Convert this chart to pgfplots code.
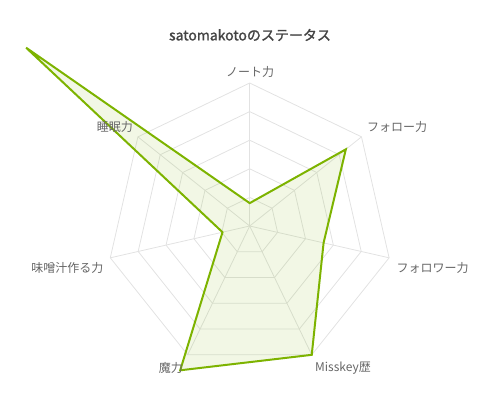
\documentclass[border=0pt]{standalone}
\usepackage{pgfplots}
\pgfplotsset{compat=1.18}
\usepgfplotslibrary{polar}
\usepackage{fontspec}
\setmainfont{Noto Sans CJK JP}
\newfontfamily\titlefont[FakeBold=1.5]{Noto Sans CJK JP}
\definecolor{lineg}{HTML}{7DB300}
\definecolor{gridc}{HTML}{E2E2E2}
\definecolor{labc}{HTML}{666666}
\definecolor{titc}{HTML}{444444}
\begin{document}
\begin{tikzpicture}[x=1pt,y=1pt]
\begin{polaraxis}[
  scale only axis, width=286pt, height=286pt,
  xmin=0, xmax=360, ymin=0, ymax=100,
  hide axis, clip=false,
]
\coordinate (C) at (axis cs:0,0);
\pgfplotsinvokeforeach{20,40,60,80,100}{
  \draw[gridc, line width=0.8pt] (axis cs:90,#1) -- (axis cs:38.5714,#1) -- (axis cs:347.1429,#1) -- (axis cs:295.7143,#1) -- (axis cs:244.2857,#1) -- (axis cs:192.8571,#1) -- (axis cs:141.4286,#1) -- cycle;
}
\pgfplotsinvokeforeach{90,38.5714,347.1429,295.7143,244.2857,192.8571,141.4286}{
  \draw[gridc, line width=0.8pt] (axis cs:#1,0) -- (axis cs:#1,100);
}
\addplot[lineg, line width=2pt, fill=lineg, fill opacity=0.1, draw opacity=1, mark=none] coordinates {
  (90,16) (38.5714,86) (347.1429,53) (295.7143,100) (244.2857,112) (192.8571,19.5) (141.4286,200) (90,16)
} -- cycle;
\end{polaraxis}
\begin{scope}[shift={(C)}, shift={(-249.7,-174)}]
\node[titc, font=\fontsize{14}{16}\selectfont\titlefont, inner sep=0] at (250,365) {satomakotoのステータス};
\begin{scope}[every node/.style={labc, font=\fontsize{12}{14}\selectfont, inner sep=0}]
\node at (250,328.5) {ノート力};
\node[anchor=west] at (367,273.3) {フォロー力};
\node[anchor=west] at (396.5,132.3) {フォロワー力};
\node[anchor=west] at (315,32) {Misskey歴};
\node[anchor=east] at (183,31.7) {魔力};
\node[anchor=east] at (103.5,132.3) {味噌汁作る力};
\node[anchor=east] at (133,273.3) {睡眠力};
\end{scope}
\end{scope}
\pgfresetboundingbox
\path[use as bounding box] ([xshift=-249.7pt,yshift=-174pt]C) rectangle ([xshift=250.3pt,yshift=226pt]C);
\end{tikzpicture}
\end{document}
